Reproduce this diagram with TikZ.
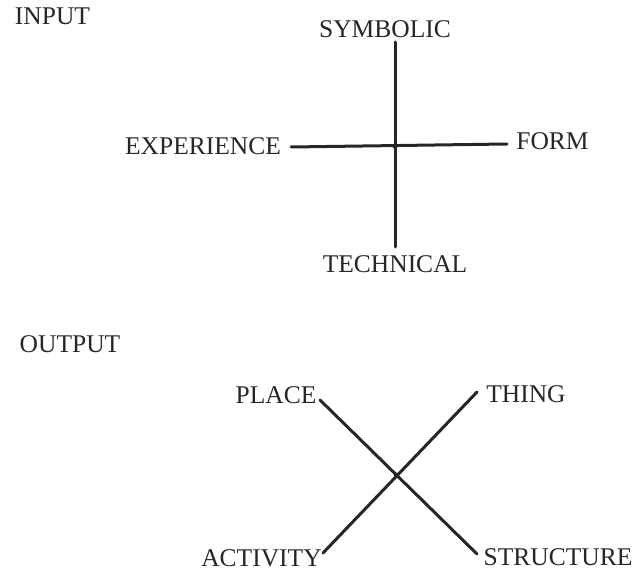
\documentclass[tikz,border=0pt]{standalone}
\usepackage{fontspec}
\setmainfont{Liberation Serif}
\begin{document}
\begin{tikzpicture}[x=1pt,y=-1pt,
  lbl/.style={anchor=base,inner sep=0pt,font=\fontsize{25.5}{28}\selectfont,text=black!85},
  axis/.style={line width=3pt,black!85,line cap=round}]
\useasboundingbox (0,0) rectangle (644,569);
% INPUT diagram
\node[lbl] (input) at (52.5,25) {INPUT};
\node[lbl] (symbolic) at (385,38) {SYMBOLIC};
\node[lbl] (experience) at (203,155) {EXPERIENCE};
\node[lbl] (form) at (552.5,150) {FORM};
\node[lbl] (technical) at (395,272) {TECHNICAL};
\coordinate (vt) at (395,42);
\coordinate (vb) at (395,247);
\coordinate (hl) at (291,147);
\coordinate (hr) at (507,144);
\coordinate (c1) at (395,146);
\draw[axis] (vt) -- (vb);
\draw[axis] (hl) -- (hr);
\fill[black!85] (c1) circle (2.6pt);
% OUTPUT diagram
\node[lbl] (output) at (70,352) {OUTPUT};
\node[lbl] (place) at (276,403) {PLACE};
\node[lbl] (thing) at (526,402) {THING};
\node[lbl] (activity) at (261.5,566) {ACTIVITY};
\node[lbl] (structure) at (558,565.5) {STRUCTURE};
\coordinate (pe) at (320,400);
\coordinate (se) at (477,554);
\coordinate (ae) at (323,553);
\coordinate (te) at (477,392);
\coordinate (c2) at (396,475);
\draw[axis] (pe) -- (se);
\draw[axis] (ae) -- (te);
\fill[black!85] (c2) circle (2.4pt);
\end{tikzpicture}
\end{document}
